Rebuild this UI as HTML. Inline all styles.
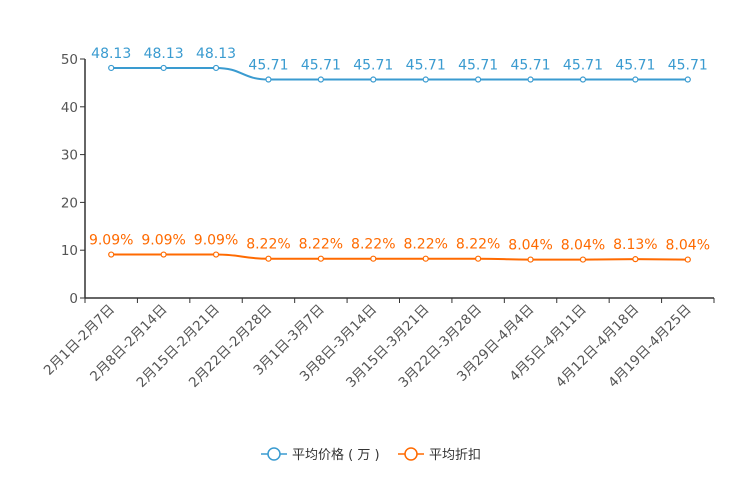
<!DOCTYPE html>
<html><head><meta charset="utf-8"><style>
body{margin:0;background:#fff}
svg{display:block;font-family:"DejaVu Sans","Liberation Sans","Noto Sans CJK SC",sans-serif}
</style></head><body>
<svg id="c" width="744" height="496"></svg>
<script>
const categories=["2月1日-2月7日","2月8日-2月14日","2月15日-2月21日","2月22日-2月28日","3月1日-3月7日","3月8日-3月14日","3月15日-3月21日","3月22日-3月28日","3月29日-4月4日","4月5日-4月11日","4月12日-4月18日","4月19日-4月25日"];
const priceValues=[48.13,48.13,48.13,45.71,45.71,45.71,45.71,45.71,45.71,45.71,45.71,45.71];
const discountValues=[9.09,9.09,9.09,8.22,8.22,8.22,8.22,8.22,8.04,8.04,8.13,8.04];
const discountLabels=["9.09%","9.09%","9.09%","8.22%","8.22%","8.22%","8.22%","8.22%","8.04%","8.04%","8.13%","8.04%"];
const yTicks=[0,10,20,30,40,50];
const svg=document.getElementById('c');const NS='http://www.w3.org/2000/svg';
const L=85,R=714,T=59,B=298,band=(R-L)/categories.length;
const x=i=>L+band*(i+0.5), y=v=>B-(v/50)*(B-T);
function el(t,a,p){const e=document.createElementNS(NS,t);for(const k in a)e.setAttribute(k,a[k]);(p||svg).appendChild(e);return e;}
yTicks.forEach(v=>{
const t=el('text',{x:78,y:y(v)+5,'text-anchor':'end','font-size':13.5,fill:'#555'});t.textContent=v;


el('line',{x1:80,x2:85,y1:y(v),y2:y(v),stroke:'#333'});
});
const ya=el('line',{x1:85,x2:85,y1:T,y2:B,stroke:'#333','stroke-width':1.5});


const xa=el('line',{x1:85,x2:R,y1:B,y2:B,stroke:'#333','stroke-width':1.5});


for(let i=0;i<=categories.length;i++)el('line',{x1:L+band*i,x2:L+band*i,y1:B,y2:B+5,stroke:'#333'});
categories.forEach((c,i)=>{
const t=el('text',{x:x(i)+4,y:B+12,'text-anchor':'end','font-size':13.5,fill:'#555',transform:`rotate(-45 ${x(i)+4} ${B+12})`});t.textContent=c;


});
function series(vals,labels,color,name){
let d=`M${x(0)},${y(vals[0])}`;
for(let i=1;i<vals.length;i++){const x0=x(i-1),x1=x(i),m=(x1-x0)/2;d+=` C${x0+m},${y(vals[i-1])} ${x1-m},${y(vals[i])} ${x1},${y(vals[i])}`;}
const p=el('path',{d,fill:'none',stroke:color,'stroke-width':2});


vals.forEach((v,i)=>{
const c=el('circle',{cx:x(i),cy:y(v),r:2.5,fill:'#fff',stroke:color,'stroke-width':1.2});


const t=el('text',{x:x(i),y:y(v)-10,'text-anchor':'middle','font-size':14,fill:color});t.textContent=labels[i];


});
}
series(priceValues,priceValues.map(v=>v.toFixed(2)),'#3a9bd0','price');
series(discountValues,discountLabels,'#ff6a00','discount');
function legend(lx,color,label,name){
const g=el('g',{});


el('line',{x1:lx,x2:lx+26,y1:454,y2:454,stroke:color,'stroke-width':1.5},g);
el('circle',{cx:lx+13,cy:454,r:6,fill:'#fff',stroke:color,'stroke-width':1.5},g);
const t=el('text',{x:lx+31,y:459,'font-size':13,fill:'#333'},g);t.textContent=label;
}
legend(261,'#3a9bd0','平均价格 ( 万 )','legend-price');
legend(398,'#ff6a00','平均折扣','legend-discount');
</script>
</body></html>
